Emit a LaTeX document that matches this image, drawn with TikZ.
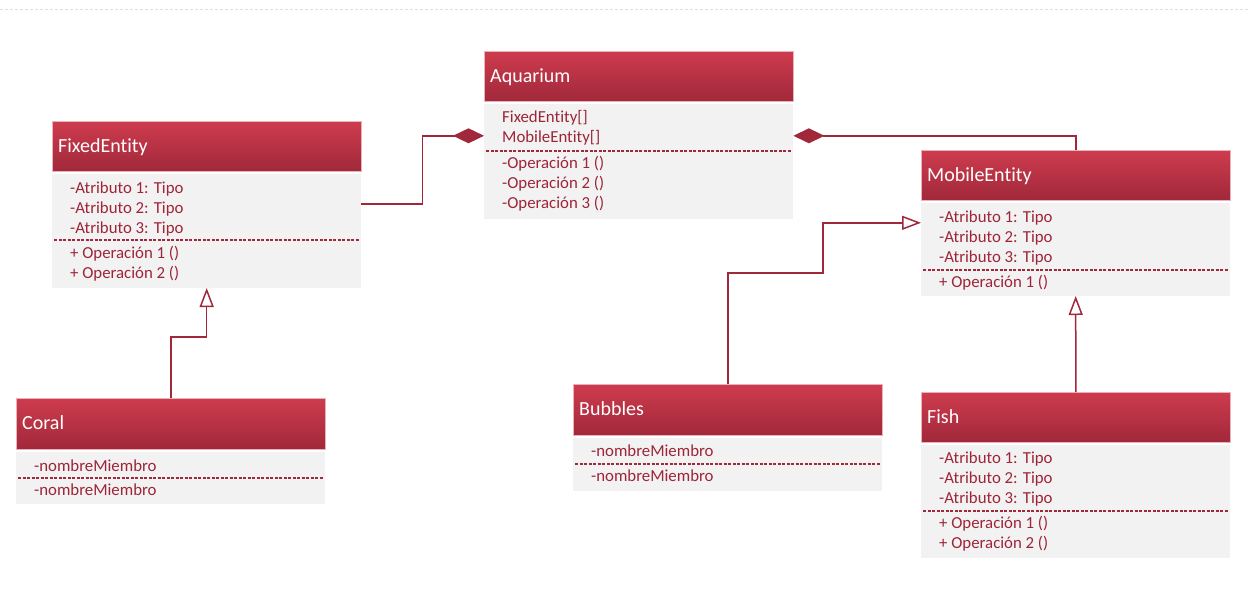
\documentclass[tikz,border=0pt]{standalone}
\usepackage{fontspec}
\setmainfont[Ligatures=NoCommon]{Carlito}
\usetikzlibrary{arrows.meta}
\definecolor{hdrtop}{RGB}{206,60,78}
\definecolor{hdrbot}{RGB}{160,40,58}
\definecolor{bodyfill}{RGB}{242,242,242}
\definecolor{txtred}{RGB}{158,36,56}
\definecolor{linered}{RGB}{160,40,58}
\tikzset{
  hdr/.style={anchor=north west, minimum width=309pt, minimum height=50pt, inner sep=0pt,
    top color=hdrtop, bottom color=hdrbot, draw=hdrtop!40!white, line width=0.6pt},
  ttl/.style={anchor=base west, inner sep=0pt, text=white, font=\fontsize{20pt}{22pt}\selectfont},
  bodyb/.style={anchor=north west, minimum width=309pt, inner sep=0pt, fill=bodyfill},
  txt/.style={anchor=base west, inner sep=0pt, text=txtred, font=\fontsize{16.8pt}{19pt}\selectfont},
  sep/.style={draw=linered, line width=1.2pt, dash pattern=on 3pt off 1.5pt},
  conn/.style={draw=linered, line width=1.5pt},
  comp/.style={conn, -{Diamond[length=31pt, width=15pt, fill=linered]}},
  gen/.style={conn, -{Triangle[open, length=19pt, width=14pt, fill=white]}}
}
\newcommand{\umlclass}[6]{% name, left, top, header height, body height, title
  \node[hdr, minimum height=#4pt] (#1h) at (#2,#3) {};
  \node[ttl] (#1t) at ([shift={(6pt,-31pt)}]#1h.north west) {#6};
  \node[bodyb, minimum height=#5pt] (#1b) at ([yshift=-2pt]#1h.south west) {};
}
\newcommand{\bline}[4]{\node[txt] (#1) at (#2,#3) {#4};}
\begin{document}
\begin{tikzpicture}[x=1pt,y=-1pt]
\useasboundingbox (0,0) rectangle (1250,602);
\draw[gray!25, dash pattern=on 3pt off 2pt, line width=0.6pt] (0,9) -- (1250,9);

% Aquarium
\umlclass{aq}{484}{51}{50}{115}{Aquarium}
\bline{aq1}{502}{122}{FixedEntity[]}
\bline{aq2}{502}{142}{MobileEntity[]}
\draw[sep] (486,151) -- (791,151);
\bline{aq3}{502}{168}{-Operación 1 ()}
\bline{aq4}{502}{188}{-Operación 2 ()}
\bline{aq5}{502}{208}{-Operación 3 ()}

% FixedEntity
\umlclass{fix}{52}{121}{50}{114}{FixedEntity}
\bline{fix1}{70}{193}{-Atributo 1: Tipo}
\bline{fix2}{70}{213}{-Atributo 2: Tipo}
\bline{fix3}{70}{233}{-Atributo 3: Tipo}
\draw[sep] (54,240) -- (359,240);
\bline{fix4}{70}{258}{+ Operación 1 ()}
\bline{fix5}{70}{278}{+ Operación 2 ()}

% MobileEntity
\umlclass{mob}{921}{150}{50}{93}{MobileEntity}
\bline{mob1}{939}{222}{-Atributo 1: Tipo}
\bline{mob2}{939}{242}{-Atributo 2: Tipo}
\bline{mob3}{939}{262}{-Atributo 3: Tipo}
\draw[sep] (923,270) -- (1228,270);
\bline{mob4}{939}{287}{+ Operación 1 ()}

% Coral
\umlclass{cor}{16}{398}{51}{52}{Coral}
\bline{cor1}{34}{471}{-nombreMiembro}
\draw[sep] (18,478) -- (323,478);
\bline{cor2}{34}{495}{-nombreMiembro}

% Bubbles
\umlclass{bub}{573}{384}{51}{53}{Bubbles}
\bline{bub1}{591}{456}{-nombreMiembro}
\draw[sep] (575,464) -- (880,464);
\bline{bub2}{591}{481}{-nombreMiembro}

% Fish
\umlclass{fish}{921}{392}{50}{113}{Fish}
\bline{fish1}{939}{463}{-Atributo 1: Tipo}
\bline{fish2}{939}{483}{-Atributo 2: Tipo}
\bline{fish3}{939}{503}{-Atributo 3: Tipo}
\draw[sep] (923,511) -- (1228,511);
\bline{fish4}{939}{528}{+ Operación 1 ()}
\bline{fish5}{939}{548}{+ Operación 2 ()}

% connectors
\draw[comp] ([yshift=27pt]fixb.east) -- ++(61,0) |- ([yshift=25.5pt]aqb.west);
\draw[comp] (mobh.north) |- ([yshift=25.5pt]aqb.east);
\draw[gen] (bubh.north) -- ++(0,-111) -- ++(95,0) |- ([yshift=26.5pt]mobb.west);
\draw[gen] (corh.north) -- ++(0,-61) -| (fixb.south);
\draw[gen] (fishh.north) -- (mobb.south);
\end{tikzpicture}
\end{document}
